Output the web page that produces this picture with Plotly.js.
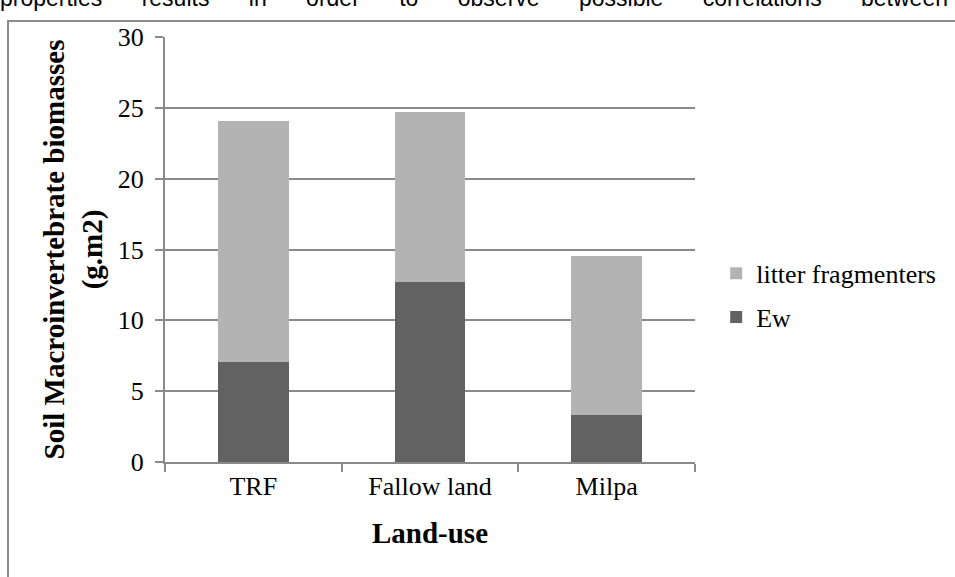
<!DOCTYPE html>
<html>
<head>
<meta charset="utf-8">
<script src="https://cdn.plot.ly/plotly-3.0.1.min.js"></script>
<style>
  html, body { margin: 0; padding: 0; background: #fff; overflow: hidden; }
  #wrap { position: relative; width: 955px; height: 577px; overflow: hidden; }
  #chart { position: absolute; left: 0; top: 0; width: 955px; height: 577px; }
  #frame { position: absolute; left: 7px; top: 20px; width: 960px; height: 570px;
           border-left: 2px solid #8c8c8c; border-top: 2px solid #8c8c8c; pointer-events: none; }
  #pagetext { position: absolute; left: 0; top: -13px; width: 948px; font-family: "Liberation Sans", Arial, sans-serif;
              font-size: 23px; line-height: 23px; text-align: justify; text-align-last: justify; color: #000; }
</style>
</head>
<body>
<div id="wrap">
  <div id="chart"></div>
  <div id="frame"></div>
  <div id="pagetext">properties results in order to observe possible correlations between</div>
</div>
<script>
const categories = ["TRF", "Fallow land", "Milpa"];
const ewValues = [7.05, 12.7, 3.3];
const litterValues = [17.05, 12.0, 11.25];
const seriesNames = ["Ew", "litter fragmenters"];
const yTicks = [0, 5, 10, 15, 20, 25, 30];

const serif = "Liberation Serif, Times New Roman, serif";

const traces = [
  { type: "bar", name: seriesNames[0], x: categories, y: ewValues, legendgroup: "g1", legendrank: 2,
    marker: { color: "#626262" } },
  { type: "bar", name: seriesNames[1], x: categories, y: litterValues, legendgroup: "g2", legendrank: 1,
    marker: { color: "#b3b3b3" } }
];

const layout = {
  width: 955, height: 577,
  margin: { l: 165, r: 260, t: 37, b: 115 },
  paper_bgcolor: "#fff", plot_bgcolor: "#fff",
  barmode: "stack", bargap: 0.6,
  font: { family: serif, size: 26, color: "#000" },
  showlegend: true,
  legend: { x: 1.04, xanchor: "left", y: 0.392, yanchor: "middle",
            font: { family: serif, size: 26, color: "#000" }, traceorder: "grouped",
            tracegroupgap: 7, bgcolor: "rgba(0,0,0,0)" },
  xaxis: {
    type: "category",
    showline: true, linecolor: "#8a8a8a", linewidth: 2,
    ticks: "outside", tickson: "boundaries", ticklen: 8, tickcolor: "#8a8a8a", tickwidth: 2,
    showgrid: false, zeroline: false,
    tickfont: { family: serif, size: 26, color: "#000" },
    title: { text: "<b>Land-use</b>", font: { family: serif, size: 29, color: "#000" }, standoff: 22 }
  },
  yaxis: {
    range: [0, 30], tickvals: yTicks, ticktext: yTicks.map(String),
    showline: true, linecolor: "#8a8a8a", linewidth: 2,
    ticks: "outside", ticklen: 8, tickcolor: "#8a8a8a", tickwidth: 2,
    showgrid: true, gridcolor: "#8a8a8a", gridwidth: 2, zeroline: false,
    ticklabelstandoff: 6,
    tickfont: { family: serif, size: 26, color: "#000" },
    title: { text: "<b>Soil Macroinvertebrate biomasses<br>(g.m2)</b>", font: { family: serif, size: 29, color: "#000" }, standoff: 7 }
  }
};

Plotly.newPlot("chart", traces, layout, { staticPlot: true, displayModeBar: false });
</script>
</body>
</html>
